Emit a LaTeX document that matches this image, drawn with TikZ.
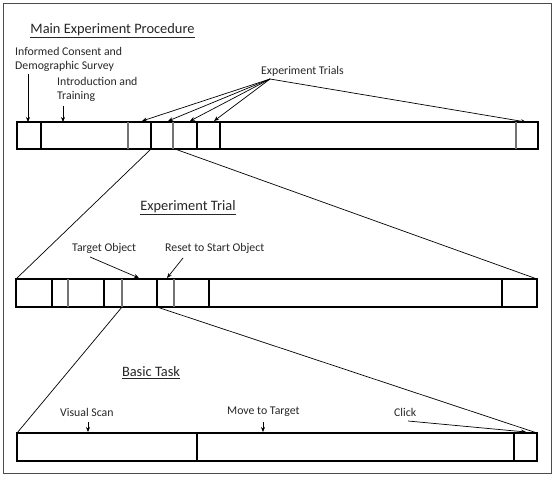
\documentclass[tikz,border=0pt]{standalone}
\usepackage{fontspec}
\setmainfont{Carlito}
\usetikzlibrary{arrows.meta}
\begin{document}
\begin{tikzpicture}[x=1pt,y=-1pt,
  bar/.style={draw=black,line width=1.1pt},
  div/.style={draw=black,line width=1.1pt},
  gdiv/.style={draw=black!55,line width=1.1pt},
  zoomline/.style={draw=black,line width=0.7pt},
  lab/.style={font=\fontsize{11.8}{14}\selectfont,inner sep=0pt,align=left,text=black!85},
  ttl/.style={font=\fontsize{14.4}{16}\selectfont,inner sep=0pt,text=black!85},
  arr/.style={draw=black,line width=0.7pt,-{Stealth[length=5pt,width=4pt]}}]
\useasboundingbox (0,0) rectangle (556,482);
\draw[black!70,line width=1pt] (3,3) rectangle (551,473);

% ---------- Bar 1 ----------
\coordinate (b1tl) at (17,122); \coordinate (b1br) at (538,149);
\draw[bar] (b1tl) rectangle (b1br);
\draw[div] (41,122) -- (41,149);
\draw[gdiv] (128,122) -- (128,149);
\draw[div] (151,122) -- (151,149);
\draw[gdiv] (173,122) -- (173,149);
\draw[div] (197,122) -- (197,149);
\draw[div] (220,122) -- (220,149);
\draw[gdiv] (516,122) -- (516,149);

\node[ttl] (t1) at (112.5,31) {\underline{Main Experiment Procedure}};
\node[lab,anchor=west] (ic) at (15,59) {Informed Consent and\\Demographic Survey};
\node[lab,anchor=west] (it) at (57,89) {Introduction and\\Training};
\coordinate (icA) at (28,74); \coordinate (icB) at (28,122);
\draw[arr] (icA) -- (icB);
\coordinate (itA) at (63,106); \coordinate (itB) at (63,122);
\draw[arr] (itA) -- (itB);

\node[lab,anchor=west] (et) at (261,71) {Experiment Trials};
\coordinate (apex) at (270,79);
\coordinate (e1) at (142,121); \coordinate (e2) at (168,121);
\coordinate (e3) at (190,121); \coordinate (e4) at (214,121);
\coordinate (e5) at (526,122);
\foreach \e in {e1,e2,e3,e4,e5} \draw[arr] (apex) -- (\e);

% ---------- zoom lines 1 -> 2 ----------
\coordinate (z1a) at (151,149); \coordinate (z1b) at (175,149);
\coordinate (b2tl) at (16,279); \coordinate (b2tr) at (537,279);
\draw[zoomline] (z1a) -- (b2tl);
\draw[zoomline] (z1b) -- (b2tr);

% ---------- Bar 2 ----------
\coordinate (b2br) at (537,307);
\draw[bar] (b2tl) rectangle (b2br);
\draw[div] (52,279) -- (52,307);
\draw[gdiv] (68,279) -- (68,307);
\draw[div] (104,279) -- (104,307);
\draw[gdiv] (122,279) -- (122,307);
\draw[div] (157,279) -- (157,307);
\draw[gdiv] (174,279) -- (174,307);
\draw[div] (209,279) -- (209,307);
\draw[div] (502,279) -- (502,307);

\node[ttl] (t2) at (188,208) {\underline{Experiment Trial}};
\node[lab,anchor=west] (to) at (72,248) {Target Object};
\node[lab,anchor=west] (rs) at (165,248) {Reset to Start Object};
\coordinate (toA) at (90,257); \coordinate (toB) at (139,278);
\draw[arr] (toA) -- (toB);
\coordinate (rsA) at (183,258); \coordinate (rsB) at (167,278);
\draw[arr] (rsA) -- (rsB);

% ---------- zoom lines 2 -> 3 ----------
\coordinate (z2a) at (122,307); \coordinate (z2b) at (157,307);
\coordinate (b3tl) at (17,433); \coordinate (b3tr) at (537,433);
\draw[zoomline] (z2a) -- (b3tl);
\draw[zoomline] (z2b) -- (b3tr);

% ---------- Bar 3 ----------
\coordinate (b3br) at (537,461);
\draw[bar] (b3tl) rectangle (b3br);
\draw[div] (197,433) -- (197,461);
\draw[div] (514,433) -- (514,461);

\node[ttl] (t3) at (151,373) {\underline{Basic Task}};
\node[lab,anchor=west] (vs) at (60,412) {Visual Scan};
\node[lab,anchor=west] (mt) at (227,412) {Move to Target};
\node[lab,anchor=west] (ck) at (394,412) {Click};
\coordinate (vsA) at (88,422); \coordinate (vsB) at (88,432);
\draw[arr] (vsA) -- (vsB);
\coordinate (mtA) at (263,422); \coordinate (mtB) at (263,432);
\draw[arr] (mtA) -- (mtB);
\coordinate (ckA) at (408,421); \coordinate (ckB) at (526,432);
\draw[arr] (ckA) -- (ckB);
\end{tikzpicture}
\end{document}
